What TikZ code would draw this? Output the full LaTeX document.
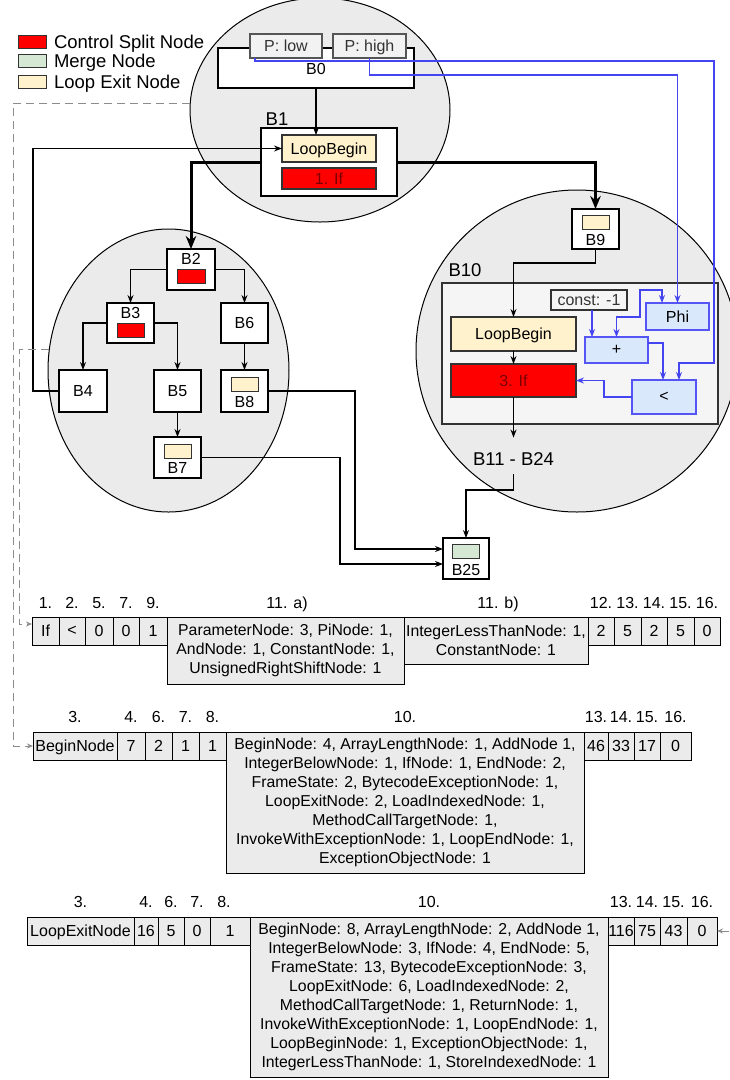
\documentclass[tikz,border=0pt]{standalone}
\usepackage{fontspec}
\setmainfont{Liberation Sans}
\usetikzlibrary{arrows.meta,shapes.geometric}
\definecolor{ellg}{HTML}{EBEBEB}
\definecolor{cellg}{HTML}{EBEBEB}
\definecolor{redn}{HTML}{FF0000}
\definecolor{ifred}{HTML}{7A0000}
\definecolor{beige}{HTML}{FFF2CC}
\definecolor{mergeg}{HTML}{D5E8D4}
\definecolor{bline}{HTML}{4444F0}
\definecolor{bbord}{HTML}{5555F5}
\definecolor{bluef}{HTML}{DAE8FC}
\definecolor{pfill}{HTML}{F2F2F2}
\definecolor{pbord}{HTML}{555555}
\definecolor{ptext}{HTML}{333333}
\definecolor{contg}{HTML}{F5F5F5}
\definecolor{dashg}{HTML}{8C8C8C}
\definecolor{dkb}{HTML}{333333}
\begin{document}
\begin{tikzpicture}[x=1pt,y=-1pt,
  every node/.style={inner sep=0pt,outer sep=0pt},
  f16/.style={font=\fontsize{16}{19}\selectfont, text depth=0pt},
  f18/.style={font=\fontsize{18.5}{22}\selectfont, text depth=0pt},
  ell/.style={ellipse, draw=black, fill=ellg, line width=1pt},
  bb/.style={rectangle, draw=black, fill=white, line width=1.1pt, f16},
  cbar/.style={rectangle, draw=dkb, line width=0.9pt, minimum width=27, minimum height=14},
  redbar/.style={cbar, fill=redn},
  exitbar/.style={cbar, fill=beige},
  mergebar/.style={cbar, fill=mergeg},
  pbox/.style={rectangle, draw=pbord, fill=pfill, line width=1.1pt, text=ptext, f16, minimum height=24},
  lbeg/.style={rectangle, draw=dkb, fill=beige, line width=1.1pt, f16},
  ifbox/.style={rectangle, draw=dkb, fill=redn, line width=1.1pt, text=ifred, f16},
  bluen/.style={rectangle, draw=bbord, fill=bluef, line width=1.1pt, f16},
  conn/.style={draw=black, line width=1.1pt, -{Stealth[length=8pt,width=6pt]}},
  heavy/.style={draw=black, line width=3pt, -{Stealth[length=13pt,width=10.5pt]}},
  bconn/.style={draw=bline, line width=1.1pt, -{Stealth[length=8pt,width=6pt]}},
  dconn/.style={draw=dashg, line width=1pt, dash pattern=on 8pt off 5pt, -{Stealth[length=6pt,width=5pt]}},
  cell/.style={rectangle, draw=black, fill=cellg, line width=1pt, f16, minimum height=28},
  mcell/.style={rectangle, draw=black, fill=cellg, line width=1pt, align=center, anchor=north, font=\fontsize{15.8}{19}\selectfont},
  hdr/.style={f16},
]
\useasboundingbox (0,0) rectangle (729,1080);

% ellipses
\node[ell, minimum width=260, minimum height=224] (E0) at (320,110) {};
\node[ell, minimum width=241, minimum height=283] (E1) at (168.5,370.5) {};
\node[ell, minimum width=322, minimum height=322] (E2) at (577,351) {};

% legend
\node[redbar, minimum width=28, minimum height=13] (lg1) at (32,41.5) {};
\node[f18, anchor=west] (lt1) at (54,41.5) {Control Split Node};
\node[mergebar, minimum width=28, minimum height=13] (lg2) at (32,61) {};
\node[f18, anchor=west] (lt2) at (54,61) {Merge Node};
\node[exitbar, minimum width=28, minimum height=13] (lg3) at (32,81.5) {};
\node[f18, anchor=west] (lt3) at (54,81.5) {Loop Exit Node};

% top
\node[bb, minimum width=196, minimum height=40] (B0) at (316,68) {};
\node[f16] (B0l) at (316,69) {B0};
\node[pbox, minimum width=72] (Plow) at (286,46) {P: low};
\node[pbox, minimum width=73] (Phigh) at (369.5,46) {P: high};
\node[bb, minimum width=136, minimum height=68] (B1) at (329,162) {};
\node[f18] (B1l) at (277,119.5) {B1};
\node[lbeg, minimum width=94, minimum height=27] (LB1) at (329,148.5) {LoopBegin};
\node[ifbox, minimum width=94, minimum height=21] (If1) at (329,178.5) {1. If};

% left ellipse
\node[bb, minimum width=48, minimum height=41] (B2) at (191,269.5) {};
\node[f16] (B2l) at (191,259) {B2};
\node[redbar, minimum width=28] (B2r) at (191,276) {};
\node[bb, minimum width=47, minimum height=40] (B3) at (130.5,323) {};
\node[f16] (B3l) at (130.5,313) {B3};
\node[redbar] (B3r) at (130.5,330) {};
\node[bb, minimum width=47, minimum height=40] (B6) at (244.5,323) {B6};
\node[bb, minimum width=48, minimum height=42] (B4) at (83,391) {B4};
\node[bb, minimum width=47, minimum height=42] (B5) at (177.5,391) {B5};
\node[bb, minimum width=47, minimum height=42] (B8) at (244.5,391) {};
\node[exitbar] (B8e) at (244.5,384) {};
\node[f16] (B8l) at (244.5,402) {B8};
\node[bb, minimum width=47, minimum height=41] (B7) at (177.5,457.5) {};
\node[exitbar] (B7e) at (177.5,451) {};
\node[f16] (B7l) at (177.5,468) {B7};

% right ellipse
\node[f18] (B10l) at (465,270) {B10};
\node[rectangle, draw=dkb, fill=contg, line width=1.1pt, minimum width=276, minimum height=141] (B10) at (580,353.5) {};
\node[bb, minimum width=47, minimum height=40] (B9) at (595.5,229) {};
\node[exitbar] (B9e) at (595.5,222) {};
\node[f16] (B9l) at (595.5,240) {B9};
\node[lbeg, minimum width=125, minimum height=34] (LB3) at (513.5,334) {LoopBegin};
\node[ifbox, minimum width=125, minimum height=33] (If3) at (513.5,380.5) {3. If};
\node[pbox, draw=dkb, fill=contg, minimum width=76, minimum height=20] (cst) at (589,300) {const: -1};
\node[bluen, minimum width=63, minimum height=27] (Phi) at (677.5,316.5) {Phi};
\node[bluen, minimum width=63, minimum height=26] (Pl) at (616.5,350) {+};
\node[bluen, minimum width=64, minimum height=34] (Lt) at (664,397) {<};
\node[f18] (L11) at (513.5,459) {B11 - B24};
\node[bb, minimum width=46, minimum height=41] (B25) at (466,558.5) {};
\node[mergebar] (B25m) at (465.5,551.5) {};
\node[f16] (B25l) at (466,570) {B25};

% connectors
\draw[conn] (B0.south) -- (B0.south |- LB1.north);
\draw[heavy] (B1.west) -| (B2.north);
\draw[heavy] (B1.east) -| (B9.north);
\draw[conn] (B4.west) -- ++(-26,0) |- (LB1.west);
\draw[conn] (B2.west) -| (B3.north);
\draw[conn] (B2.east) -| (B6.north);
\draw[conn] (B3.west) -| (B4.north);
\draw[conn] (B3.east) -| (B5.north);
\draw[conn] (B6.south) -- (B8.north);
\draw[conn] (B5.south) -- (B7.north);
\draw[conn] (B8.east) -- (355,391) |- ([yshift=9.5pt]B25.west);
\draw[conn] (B7.east) -- (340,457.5) |- ([yshift=-5.5pt]B25.west);
\draw[conn] (B9.south) -- (595.5,263) -| (LB3.north);
\draw[conn] (LB3.south) -- (If3.north);
\draw[conn] (If3.south) -- ([yshift=15pt]L11.north);
\draw[conn] ([yshift=-9pt]L11.south) -- (513.5,490) -| (B25.north);

% blue data flow
\draw[bconn] ([xshift=5pt]Plow.south west) |- (714,61) -- (714,363) -| ([xshift=15pt]Lt.north);
\draw[bconn] (Phigh.south) -- ++(0,17) -| (Phi.north);
\draw[bconn] ([xshift=3pt]cst.south) -- ([xshift=3pt]cst.south |- Pl.north);
\draw[bconn, {Stealth[length=8pt,width=6pt]}-{Stealth[length=8pt,width=6pt]}] (Pl.north) -- (616.5,317) -- (640,317) -- (640,290) -| ([xshift=-15.5pt]Phi.north);
\draw[bconn] ([yshift=7pt]Pl.east) -| ([xshift=-1pt]Lt.north);
\draw[bconn] (Lt.west) -- (604,397) |- (If3.east);

% table 1
\node[hdr] (H1a) at (45.5,603) {1.};
\node[hdr] (H1b) at (72,603) {2.};
\node[hdr] (H1c) at (99,603) {5.};
\node[hdr] (H1d) at (126,603) {7.};
\node[hdr] (H1e) at (153,603) {9.};
\node[hdr] (H1f) at (287,603) {11. a)};
\node[hdr] (H1g) at (498,603) {11. b)};
\node[hdr] (H1h) at (601,603) {12.};
\node[hdr] (H1i) at (627.5,603) {13.};
\node[hdr] (H1j) at (654,603) {14.};
\node[hdr] (H1k) at (680.5,603) {15.};
\node[hdr] (H1l) at (707,603) {16.};
\node[cell, minimum width=27] (T1a) at (45.5,631) {If};
\node[cell, minimum width=26] (T1b) at (72,631) {<};
\node[cell, minimum width=28] (T1c) at (99,631) {0};
\node[cell, minimum width=26] (T1d) at (126,631) {0};
\node[cell, minimum width=28] (T1e) at (153,631) {1};
\node[mcell, minimum width=237, minimum height=67] (T1f) at (285.5,617) {ParameterNode: 3, PiNode: 1,\\AndNode: 1, ConstantNode: 1,\\UnsignedRightShiftNode: 1};
\node[mcell, minimum width=184, minimum height=47] (T1g) at (496,617) {IntegerLessThanNode: 1,\\ConstantNode: 1};
\node[cell, minimum width=26] (T1h) at (601,631) {2};
\node[cell, minimum width=27] (T1i) at (627.5,631) {5};
\node[cell, minimum width=26] (T1j) at (654,631) {2};
\node[cell, minimum width=27] (T1k) at (680.5,631) {5};
\node[cell, minimum width=26] (T1l) at (707,631) {0};

% table 2
\node[hdr] (H2a) at (75,717) {3.};
\node[hdr] (H2b) at (131,717) {4.};
\node[hdr] (H2c) at (158.5,717) {6.};
\node[hdr] (H2d) at (185.5,717) {7.};
\node[hdr] (H2e) at (212.5,717) {8.};
\node[hdr] (H2f) at (405,717) {10.};
\node[hdr] (H2g) at (596,717) {13.};
\node[hdr] (H2h) at (621,717) {14.};
\node[hdr] (H2i) at (647,717) {15.};
\node[hdr] (H2j) at (675.5,717) {16.};
\node[cell, minimum width=84] (T2a) at (75,746) {BeginNode};
\node[cell, minimum width=28] (T2b) at (131,746) {7};
\node[cell, minimum width=27] (T2c) at (158.5,746) {2};
\node[cell, minimum width=27] (T2d) at (185.5,746) {1};
\node[cell, minimum width=27] (T2e) at (212.5,746) {1};
\node[mcell, minimum width=358, minimum height=141] (T2f) at (405,732) {BeginNode: 4, ArrayLengthNode: 1, AddNode 1,\\IntegerBelowNode: 1, IfNode: 1, EndNode: 2,\\FrameState: 2, BytecodeExceptionNode: 1,\\LoopExitNode: 2, LoadIndexedNode: 1,\\MethodCallTargetNode: 1,\\InvokeWithExceptionNode: 1, LoopEndNode: 1,\\ExceptionObjectNode: 1};
\node[cell, minimum width=24] (T2g) at (596,746) {46};
\node[cell, minimum width=26] (T2h) at (621,746) {33};
\node[cell, minimum width=26] (T2i) at (647,746) {17};
\node[cell, minimum width=31] (T2j) at (675.5,746) {0};

% table 3
\node[hdr] (H3a) at (80.5,902) {3.};
\node[hdr] (H3b) at (146,902) {4.};
\node[hdr] (H3c) at (171,902) {6.};
\node[hdr] (H3d) at (197,902) {7.};
\node[hdr] (H3e) at (224,902) {8.};
\node[hdr] (H3f) at (429,902) {10.};
\node[hdr] (H3g) at (621,902) {13.};
\node[hdr] (H3h) at (647,902) {14.};
\node[hdr] (H3i) at (673.5,902) {15.};
\node[hdr] (H3j) at (702,902) {16.};
\node[cell, minimum width=107] (T3a) at (80.5,931) {LoopExitNode};
\node[cell, minimum width=24] (T3b) at (146,931) {16};
\node[cell, minimum width=26] (T3c) at (171,931) {5};
\node[cell, minimum width=26] (T3d) at (197,931) {0};
\node[cell, minimum width=40] (T3e) at (230,931) {1};
\node[mcell, minimum width=358, minimum height=160] (T3f) at (429,917) {BeginNode: 8, ArrayLengthNode: 2, AddNode 1,\\IntegerBelowNode: 3, IfNode: 4, EndNode: 5,\\FrameState: 13, BytecodeExceptionNode: 3,\\LoopExitNode: 6, LoadIndexedNode: 2,\\MethodCallTargetNode: 1, ReturnNode: 1,\\InvokeWithExceptionNode: 1, LoopEndNode: 1,\\LoopBeginNode: 1, ExceptionObjectNode: 1,\\IntegerLessThanNode: 1, StoreIndexedNode: 1};
\node[cell, minimum width=26] (T3g) at (621,931) {116};
\node[cell, minimum width=26] (T3h) at (647,931) {75};
\node[cell, minimum width=27] (T3i) at (673.5,931) {43};
\node[cell, minimum width=30] (T3j) at (702,931) {0};

% dashed references
\coordinate (rin) at (729,931);
\draw[dconn] (E0.177.5) -- ++(-177,0) |- (T2a.west);
\draw[dconn] (E1.170) -- ++(-30,0) |- ([yshift=7pt]T1a.west);
\draw[dconn] (rin) -- (T3j.east);
\end{tikzpicture}
\end{document}
